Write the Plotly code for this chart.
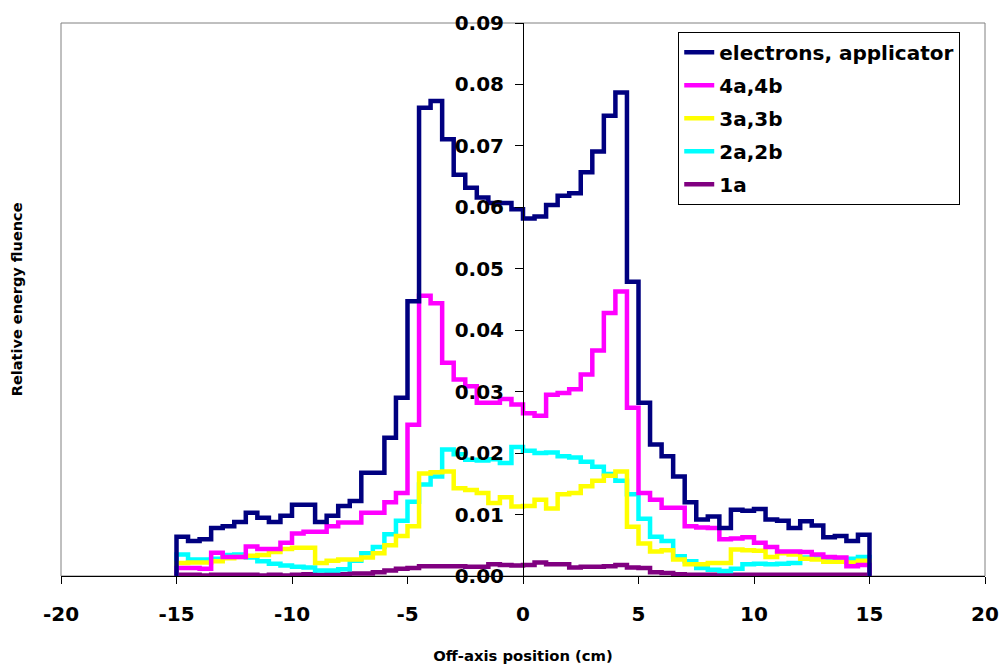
import plotly.graph_objects as go

# Bin left edges (cm): 60 bins of 0.5 cm from -15 to 15
bin_width = 0.5
bin_left = [-15 + bin_width * i for i in range(60)]

series_names = ["electrons, applicator", "4a,4b", "3a,3b", "2a,2b", "1a"]
series_colors = ["#000080", "#FF00FF", "#FFFF00", "#00FFFF", "#800080"]

electrons = [
    0.0064, 0.0057, 0.0060, 0.0078, 0.0081, 0.0088, 0.0103, 0.0095, 0.0088, 0.0098,
    0.0116, 0.0116, 0.0088, 0.0098, 0.0114, 0.0122, 0.0168, 0.0168, 0.0225, 0.0290,
    0.0447, 0.0762, 0.0773, 0.0711, 0.0653, 0.0632, 0.0616, 0.0607, 0.0607, 0.0597,
    0.0582, 0.0585, 0.0604, 0.0619, 0.0623, 0.0657, 0.0691, 0.0749, 0.0787, 0.0479,
    0.0282, 0.0214, 0.0195, 0.0162, 0.0120, 0.0092, 0.0097, 0.0078, 0.0108, 0.0106,
    0.0109, 0.0092, 0.0090, 0.0078, 0.0089, 0.0082, 0.0063, 0.0065, 0.0057, 0.0067,
]
s4ab = [
    0.0013, 0.0013, 0.0012, 0.0038, 0.0031, 0.0031, 0.0048, 0.0044, 0.0044, 0.0054,
    0.0069, 0.0072, 0.0072, 0.0081, 0.0087, 0.0087, 0.0103, 0.0103, 0.0120, 0.0135,
    0.0246, 0.0456, 0.0444, 0.0347, 0.0320, 0.0309, 0.0282, 0.0282, 0.0288, 0.0279,
    0.0265, 0.0261, 0.0295, 0.0298, 0.0304, 0.0328, 0.0367, 0.0428, 0.0463, 0.0274,
    0.0135, 0.0124, 0.0111, 0.0111, 0.0081, 0.0079, 0.0078, 0.0060, 0.0061, 0.0063,
    0.0054, 0.0047, 0.0040, 0.0040, 0.0039, 0.0035, 0.0031, 0.0030, 0.0016, 0.0018,
]
s3ab = [
    0.0021, 0.0022, 0.0022, 0.0024, 0.0029, 0.0031, 0.0033, 0.0034, 0.0039, 0.0044,
    0.0046, 0.0046, 0.0021, 0.0025, 0.0027, 0.0027, 0.0030, 0.0037, 0.0050, 0.0065,
    0.0081, 0.0167, 0.0169, 0.0170, 0.0143, 0.0140, 0.0135, 0.0119, 0.0128, 0.0113,
    0.0114, 0.0124, 0.0110, 0.0133, 0.0135, 0.0146, 0.0155, 0.0163, 0.0170, 0.0080,
    0.0053, 0.0040, 0.0042, 0.0027, 0.0019, 0.0019, 0.0021, 0.0021, 0.0043, 0.0042,
    0.0041, 0.0031, 0.0037, 0.0035, 0.0028, 0.0027, 0.0023, 0.0023, 0.0022, 0.0025,
]
s2ab = [
    0.0035, 0.0027, 0.0027, 0.0028, 0.0034, 0.0035, 0.0030, 0.0024, 0.0020, 0.0017,
    0.0015, 0.0014, 0.0009, 0.0009, 0.0011, 0.0025, 0.0037, 0.0047, 0.0068, 0.0090,
    0.0121, 0.0149, 0.0162, 0.0206, 0.0198, 0.0189, 0.0188, 0.0190, 0.0184, 0.0210,
    0.0204, 0.0200, 0.0201, 0.0195, 0.0193, 0.0186, 0.0178, 0.0166, 0.0155, 0.0133,
    0.0093, 0.0064, 0.0057, 0.0032, 0.0024, 0.0013, 0.0010, 0.0008, 0.0012, 0.0019,
    0.0020, 0.0019, 0.0020, 0.0021, 0.0030, 0.0029, 0.0028, 0.0028, 0.0028, 0.0031,
]
s1a = [
    0.0002, 0.0002, 0.0001, 0.0002, 0.0002, 0.0002, 0.0002, 0.0001, 0.0002, 0.0001,
    0.0002, 0.0003, 0.0002, 0.0003, 0.0003, 0.0004, 0.0004, 0.0006, 0.0009, 0.0012,
    0.0013, 0.0016, 0.0016, 0.0016, 0.0016, 0.0015, 0.0015, 0.0019, 0.0018, 0.0017,
    0.0018, 0.0022, 0.0019, 0.0019, 0.0014, 0.0015, 0.0015, 0.0016, 0.0018, 0.0014,
    0.0013, 0.0006, 0.0005, 0.0003, 0.0002, 0.0002, 0.0002, 0.0002, 0.0002, 0.0002,
    0.0002, 0.0002, 0.0002, 0.0002, 0.0002, 0.0002, 0.0002, 0.0002, 0.0002, 0.0002,
]
series_values = [electrons, s4ab, s3ab, s2ab, s1a]

x_ticks = [-20, -15, -10, -5, 0, 5, 10, 15, 20]
y_ticks = [0.00, 0.01, 0.02, 0.03, 0.04, 0.05, 0.06, 0.07, 0.08, 0.09]

FONT = "DejaVu Sans"

fig = go.Figure()

# Histogram outlines: rise from zero at the left edge, fall back to zero at the right edge.
# Added last-to-first so the electrons curve sits on top; legendrank keeps the listed order.
right_edge = bin_left[-1] + bin_width
series = list(enumerate(zip(series_names, series_colors, series_values)))
for rank, (name, color, vals) in reversed(series):
    xs = [bin_left[0]] + bin_left + [right_edge]
    ys = [0.0] + vals + [0.0]
    fig.add_trace(go.Scatter(
        x=xs, y=ys, mode="lines", name=name, legendgroup=name,
        legendrank=rank + 1,
        line=dict(color=color, width=4.5, shape="hv"),
    ))

fig.update_layout(
    width=1003, height=668,
    margin=dict(l=61, r=18, t=23, b=92, autoexpand=False),
    paper_bgcolor="white", plot_bgcolor="white",
    font=dict(family=FONT, color="black"),
    showlegend=True,
    legend=dict(
        x=0.668, y=0.984, xanchor="left", yanchor="top",
        bgcolor="white", bordercolor="black", borderwidth=1,
        font=dict(family=FONT, size=20, weight="bold"),
        traceorder="grouped", tracegroupgap=4,
        itemwidth=30,
    ),
    xaxis=dict(
        range=[-20, 20], tickvals=x_ticks, ticktext=[str(v) for v in x_ticks],
        showgrid=False, zeroline=False, automargin=False,
        showline=True, linecolor="black", linewidth=1,
        ticks="outside", ticklen=7, tickcolor="black",
        ticklabelstandoff=13,
        tickfont=dict(family=FONT, size=20, weight="bold"),
        title=dict(text="Off-axis position (cm)", standoff=25,
                   font=dict(family=FONT, size=14.8, weight="bold")),
    ),
    yaxis=dict(
        range=[0, 0.09], tickvals=y_ticks, ticktext=[f"{v:.2f}" for v in y_ticks],
        anchor="free", position=0.5, automargin=False,
        showgrid=False, zeroline=False,
        showline=True, linecolor="black", linewidth=1,
        ticks="outside", ticklen=8, tickcolor="black",
        ticklabelstandoff=7,
        tickfont=dict(family=FONT, size=20, weight="bold"),
    ),
    shapes=[dict(
        type="rect", xref="paper", yref="paper", x0=0, x1=1, y0=0, y1=1,
        line=dict(color="#808080", width=1), layer="below",
    )],
    annotations=[dict(
        text="Relative energy fluence", xref="paper", yref="paper",
        x=-0.048, y=0.5, xanchor="center", yanchor="middle",
        textangle=-90, showarrow=False,
        font=dict(family=FONT, size=14.5, weight="bold"),
    )],
)

fig.write_html("out.html")
